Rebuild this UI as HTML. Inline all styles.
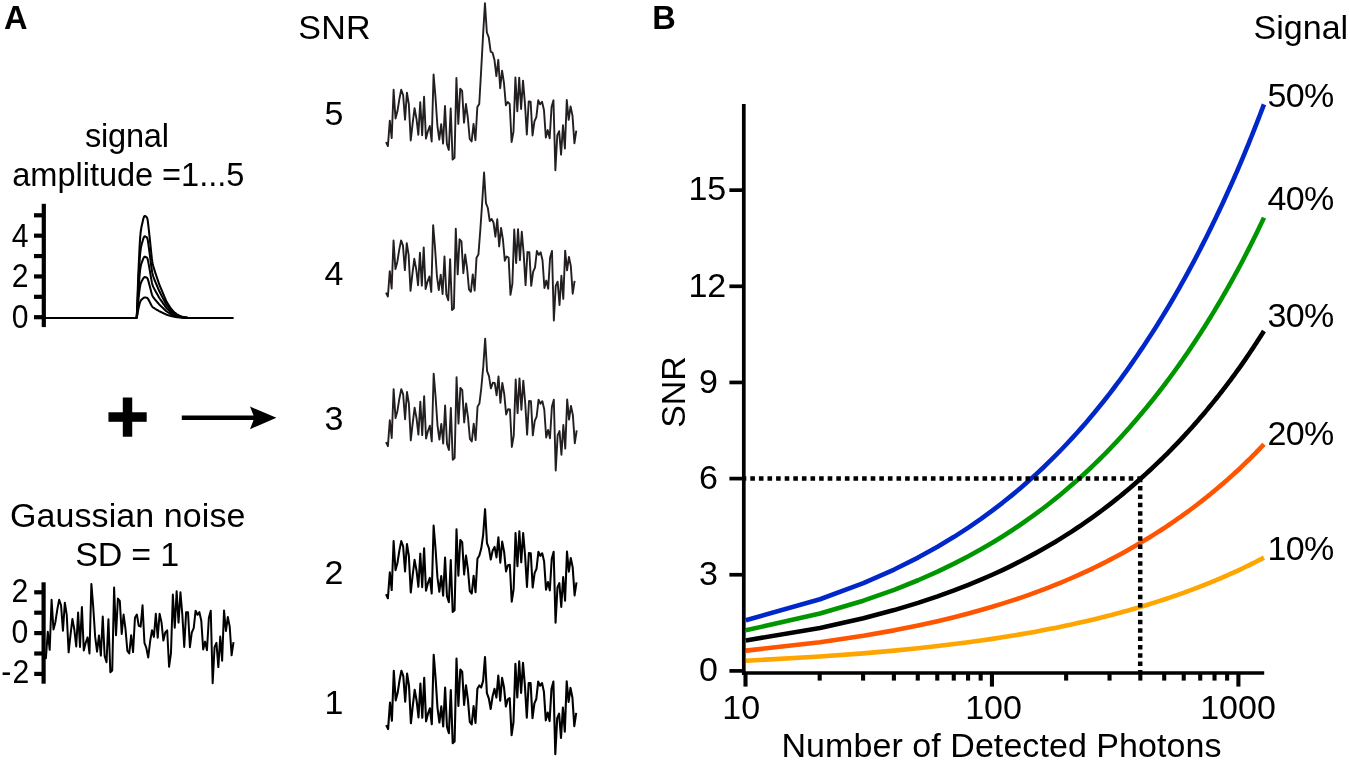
<!DOCTYPE html>
<html><head><meta charset="utf-8"><title>Figure</title>
<style>html,body{margin:0;padding:0;background:#fff}svg{display:block;will-change:transform}</style></head>
<body>
<svg width="1350" height="761" viewBox="0 0 1350 761" font-family="'Liberation Sans', Arial, Helvetica, sans-serif" font-size="34" fill="#000">
<rect width="1350" height="761" fill="#fff"/>
<text x="3.9" y="29" font-weight="bold" font-size="32.6">A</text>
<text x="298.2" y="38.6" textLength="72.4" lengthAdjust="spacing">SNR</text>
<text x="324.6" y="125">5</text>
<text x="324.6" y="284.5">4</text>
<text x="324.6" y="430.2">3</text>
<text x="324.6" y="584.25">2</text>
<text x="324.6" y="713.75">1</text>
<text x="85" y="147.3" font-size="32.6" textLength="84" lengthAdjust="spacing">signal</text>
<text x="12.3" y="185.8" font-size="32.6" textLength="232" lengthAdjust="spacing">amplitude =1...5</text>
<text x="10" y="527" textLength="235.5" lengthAdjust="spacing">Gaussian noise</text>
<text x="75.2" y="565.7" textLength="104" lengthAdjust="spacing">SD = 1</text>
<g stroke="#000" stroke-width="4.2" fill="none">
<path d="M43.8 203.8V327.1"/>
<path d="M34 317.2H43.8"/>
<path d="M34 296.82H43.8"/>
<path d="M34 276.44H43.8"/>
<path d="M34 256.06H43.8"/>
<path d="M34 235.68H43.8"/>
<path d="M34 215.3H43.8"/>
</g>
<text transform="translate(28.4 247.3) scale(0.9 1)" text-anchor="end" font-size="33.5">4</text>
<text transform="translate(28.4 286.6) scale(0.9 1)" text-anchor="end" font-size="33.5">2</text>
<text transform="translate(28.4 327.6) scale(0.9 1)" text-anchor="end" font-size="33.5">0</text>
<g stroke="#000" stroke-width="2.05" fill="none" stroke-linejoin="round">
<polyline points="135.55,317.9 135.93,317.9 136.31,317.9 136.69,317.72 137.07,316.43 137.45,314.33 137.83,311.92 138.21,309.68 138.59,307.98 138.97,306.31 139.35,304.67 139.73,303.19 140.11,301.97 140.49,301.11 140.87,300.46 141.25,299.97 141.63,299.57 142.01,299.23 142.39,298.9 142.77,298.56 143.15,298.24 143.53,297.96 143.91,297.73 144.29,297.59 144.67,297.52 145.05,297.51 145.43,297.55 145.81,297.61 146.19,297.68 146.57,297.73 146.95,297.82 147.33,298.02 147.71,298.39 148.09,298.97 148.47,299.63 148.85,300.32 149.23,301.03 149.61,301.75 149.99,302.47 150.37,303.21 150.75,303.96 151.13,304.7 151.51,305.41 151.89,306.06 152.27,306.6 152.65,307.02 153.03,307.36 153.41,307.65 153.79,307.9 154.17,308.15 154.55,308.4 154.93,308.64 155.31,308.88 155.69,309.1 156.07,309.32 156.45,309.55 156.83,309.77 157.21,309.99 157.59,310.22 157.97,310.44 158.35,310.67 158.73,310.9 159.11,311.11 159.49,311.32 159.87,311.51 160.25,311.69 160.63,311.86 161.01,312.04 161.39,312.22 161.77,312.4 162.15,312.58 162.53,312.77 162.91,312.95 163.29,313.13 163.67,313.31 164.05,313.5 164.43,313.68 164.81,313.86 165.19,314.04 165.57,314.22 165.95,314.39 166.33,314.55 166.71,314.69 167.09,314.83 167.47,314.95 167.85,315.08 168.23,315.19 168.61,315.31 168.99,315.43 169.37,315.54 169.75,315.66 170.13,315.77 170.51,315.88 170.89,315.99 171.27,316.09 171.65,316.18 172.03,316.27 172.41,316.36 172.79,316.44 173.17,316.53 173.55,316.6 173.93,316.68 174.31,316.75 174.69,316.82 175.07,316.88 175.45,316.95 175.83,317.01 176.21,317.06 176.59,317.12 176.97,317.17 177.35,317.22 177.73,317.27 178.11,317.31 178.49,317.35 178.87,317.39 179.25,317.43 179.63,317.47 180.01,317.5 180.39,317.53 180.77,317.56 181.15,317.59 181.53,317.62 181.91,317.65 182.29,317.67 182.67,317.69 183.05,317.71 183.43,317.73 183.81,317.75 184.19,317.77 184.57,317.78 184.95,317.8 185.33,317.82 185.71,317.83 186.09,317.85 186.47,317.86 186.85,317.88 187.23,317.89 187.61,317.9 187.99,317.9 188.37,317.9 188.75,317.9 189.13,317.9 189.51,317.9"/>
<polyline points="135.55,317.9 135.93,317.9 136.31,317.9 136.69,317.53 137.07,314.96 137.45,310.77 137.83,305.94 138.21,301.47 138.59,298.06 138.97,294.72 139.35,291.45 139.73,288.47 140.11,286.04 140.49,284.31 140.87,283.03 141.25,282.04 141.63,281.24 142.01,280.56 142.39,279.9 142.77,279.23 143.15,278.58 143.53,278.01 143.91,277.56 144.29,277.28 144.67,277.14 145.05,277.13 145.43,277.2 145.81,277.33 146.19,277.46 146.57,277.56 146.95,277.75 147.33,278.14 147.71,278.88 148.09,280.05 148.47,281.36 148.85,282.74 149.23,284.16 149.61,285.59 149.99,287.03 150.37,288.51 150.75,290.02 151.13,291.5 151.51,292.92 151.89,294.23 152.27,295.29 152.65,296.14 153.03,296.82 153.41,297.39 153.79,297.9 154.17,298.41 154.55,298.9 154.93,299.39 155.31,299.85 155.69,300.3 156.07,300.75 156.45,301.19 156.83,301.64 157.21,302.08 157.59,302.53 157.97,302.99 158.35,303.45 158.73,303.9 159.11,304.33 159.49,304.73 159.87,305.11 160.25,305.47 160.63,305.82 161.01,306.18 161.39,306.54 161.77,306.9 162.15,307.27 162.53,307.63 162.91,308 163.29,308.36 163.67,308.73 164.05,309.09 164.43,309.46 164.81,309.82 165.19,310.18 165.57,310.54 165.95,310.87 166.33,311.19 166.71,311.49 167.09,311.75 167.47,312.01 167.85,312.25 168.23,312.49 168.61,312.72 168.99,312.95 169.37,313.19 169.75,313.42 170.13,313.64 170.51,313.86 170.89,314.08 171.27,314.28 171.65,314.47 172.03,314.65 172.41,314.82 172.79,314.99 173.17,315.15 173.55,315.31 173.93,315.46 174.31,315.6 174.69,315.74 175.07,315.87 175.45,315.99 175.83,316.11 176.21,316.23 176.59,316.33 176.97,316.44 177.35,316.54 177.73,316.63 178.11,316.72 178.49,316.81 178.87,316.89 179.25,316.96 179.63,317.03 180.01,317.1 180.39,317.16 180.77,317.22 181.15,317.28 181.53,317.34 181.91,317.39 182.29,317.44 182.67,317.48 183.05,317.52 183.43,317.56 183.81,317.6 184.19,317.63 184.57,317.67 184.95,317.7 185.33,317.73 185.71,317.76 186.09,317.79 186.47,317.83 186.85,317.86 187.23,317.88 187.61,317.9 187.99,317.9 188.37,317.9 188.75,317.9 189.13,317.9 189.51,317.9"/>
<polyline points="135.55,317.9 135.93,317.9 136.31,317.9 136.69,317.35 137.07,313.49 137.45,307.2 137.83,299.96 138.21,293.25 138.59,288.14 138.97,283.13 139.35,278.22 139.73,273.76 140.11,270.1 140.49,267.52 140.87,265.59 141.25,264.1 141.63,262.92 142.01,261.89 142.39,260.9 142.77,259.89 143.15,258.92 143.53,258.07 143.91,257.4 144.29,256.97 144.67,256.77 145.05,256.74 145.43,256.85 145.81,257.04 146.19,257.24 146.57,257.4 146.95,257.67 147.33,258.26 147.71,259.37 148.09,261.12 148.47,263.08 148.85,265.15 149.23,267.29 149.61,269.44 149.99,271.6 150.37,273.82 150.75,276.07 151.13,278.3 151.51,280.43 151.89,282.39 152.27,283.99 152.65,285.26 153.03,286.28 153.41,287.14 153.79,287.9 154.17,288.66 154.55,289.4 154.93,290.13 155.31,290.83 155.69,291.5 156.07,292.17 156.45,292.84 156.83,293.51 157.21,294.18 157.59,294.85 157.97,295.53 158.35,296.22 158.73,296.89 159.11,297.54 159.49,298.15 159.87,298.72 160.25,299.26 160.63,299.79 161.01,300.32 161.39,300.86 161.77,301.41 162.15,301.95 162.53,302.5 162.91,303.05 163.29,303.59 163.67,304.14 164.05,304.69 164.43,305.23 164.81,305.78 165.19,306.33 165.57,306.85 165.95,307.36 166.33,307.84 166.71,308.28 167.09,308.68 167.47,309.06 167.85,309.43 168.23,309.78 168.61,310.13 168.99,310.48 169.37,310.83 169.75,311.17 170.13,311.51 170.51,311.85 170.89,312.16 171.27,312.46 171.65,312.75 172.03,313.02 172.41,313.28 172.79,313.53 173.17,313.78 173.55,314.01 173.93,314.24 174.31,314.46 174.69,314.66 175.07,314.85 175.45,315.04 175.83,315.22 176.21,315.39 176.59,315.55 176.97,315.71 177.35,315.86 177.73,316 178.11,316.14 178.49,316.26 178.87,316.38 179.25,316.49 179.63,316.6 180.01,316.7 180.39,316.79 180.77,316.89 181.15,316.97 181.53,317.06 181.91,317.14 182.29,317.21 182.67,317.27 183.05,317.33 183.43,317.39 183.81,317.45 184.19,317.5 184.57,317.55 184.95,317.6 185.33,317.65 185.71,317.69 186.09,317.74 186.47,317.79 186.85,317.84 187.23,317.87 187.61,317.9 187.99,317.9 188.37,317.9 188.75,317.9 189.13,317.9 189.51,317.9"/>
<polyline points="135.55,317.9 135.93,317.9 136.31,317.9 136.69,317.16 137.07,312.02 137.45,303.64 137.83,293.98 138.21,285.04 138.59,278.22 138.97,271.54 139.35,264.99 139.73,259.04 140.11,254.17 140.49,250.73 140.87,248.16 141.25,246.17 141.63,244.59 142.01,243.23 142.39,241.9 142.77,240.56 143.15,239.27 143.53,238.13 143.91,237.23 144.29,236.66 144.67,236.39 145.05,236.36 145.43,236.5 145.81,236.75 146.19,237.02 146.57,237.23 146.95,237.59 147.33,238.38 147.71,239.87 148.09,242.19 148.47,244.81 148.85,247.57 149.23,250.42 149.61,253.29 149.99,256.16 150.37,259.13 150.75,262.13 151.13,265.1 151.51,267.94 151.89,270.56 152.27,272.68 152.65,274.38 153.03,275.74 153.41,276.88 153.79,277.91 154.17,278.91 154.55,279.9 154.93,280.87 155.31,281.81 155.69,282.71 156.07,283.6 156.45,284.49 156.83,285.38 157.21,286.27 157.59,287.16 157.97,288.08 158.35,288.99 158.73,289.89 159.11,290.76 159.49,291.57 159.87,292.32 160.25,293.04 160.63,293.75 161.01,294.45 161.39,295.18 161.77,295.91 162.15,296.64 162.53,297.37 162.91,298.1 163.29,298.82 163.67,299.55 164.05,300.28 164.43,301.01 164.81,301.74 165.19,302.47 165.57,303.17 165.95,303.85 166.33,304.48 166.71,305.07 167.09,305.61 167.47,306.11 167.85,306.6 168.23,307.08 168.61,307.54 168.99,308.01 169.37,308.47 169.75,308.93 170.13,309.39 170.51,309.83 170.89,310.25 171.27,310.65 171.65,311.03 172.03,311.39 172.41,311.74 172.79,312.07 173.17,312.4 173.55,312.72 173.93,313.02 174.31,313.31 174.69,313.58 175.07,313.84 175.45,314.09 175.83,314.32 176.21,314.55 176.59,314.77 176.97,314.98 177.35,315.18 177.73,315.37 178.11,315.55 178.49,315.71 178.87,315.87 179.25,316.02 179.63,316.16 180.01,316.3 180.39,316.42 180.77,316.55 181.15,316.67 181.53,316.78 181.91,316.88 182.29,316.97 182.67,317.06 183.05,317.14 183.43,317.22 183.81,317.3 184.19,317.37 184.57,317.44 184.95,317.5 185.33,317.56 185.71,317.63 186.09,317.69 186.47,317.75 186.85,317.82 187.23,317.87 187.61,317.9 187.99,317.9 188.37,317.9 188.75,317.9 189.13,317.9 189.51,317.9"/>
<polyline points="43.8,317.9 135.55,317.9 135.93,317.9 136.31,317.9 136.69,316.98 137.07,310.55 137.45,300.07 137.83,288 138.21,276.82 138.59,268.3 138.97,259.95 139.35,251.76 139.73,244.33 140.11,238.24 140.49,233.93 140.87,230.72 141.25,228.24 141.63,226.26 142.01,224.56 142.39,222.9 142.77,221.22 143.15,219.61 143.53,218.18 143.91,217.06 144.29,216.35 144.67,216.01 145.05,215.97 145.43,216.15 145.81,216.47 146.19,216.81 146.57,217.06 146.95,217.52 147.33,218.5 147.71,220.36 148.09,223.26 148.47,226.54 148.85,229.99 149.23,233.54 149.61,237.14 149.99,240.73 150.37,244.44 150.75,248.19 151.13,251.9 151.51,255.46 151.89,258.72 152.27,261.38 152.65,263.5 153.03,265.21 153.41,266.63 153.79,267.91 154.17,269.16 154.55,270.41 154.93,271.62 155.31,272.79 155.69,273.91 156.07,275.02 156.45,276.13 156.83,277.25 157.21,278.36 157.59,279.48 157.97,280.62 158.35,281.77 158.73,282.89 159.11,283.97 159.49,284.98 159.87,285.93 160.25,286.83 160.63,287.71 161.01,288.59 161.39,289.5 161.77,290.41 162.15,291.32 162.53,292.23 162.91,293.14 163.29,294.06 163.67,294.97 164.05,295.88 164.43,296.79 164.81,297.7 165.19,298.61 165.57,299.49 165.95,300.33 166.33,301.13 166.71,301.86 167.09,302.53 167.47,303.17 167.85,303.78 168.23,304.37 168.61,304.95 168.99,305.53 169.37,306.11 169.75,306.69 170.13,307.26 170.51,307.81 170.89,308.34 171.27,308.84 171.65,309.31 172.03,309.76 172.41,310.2 172.79,310.62 173.17,311.03 173.55,311.42 173.93,311.8 174.31,312.16 174.69,312.5 175.07,312.82 175.45,313.13 175.83,313.43 176.21,313.71 176.59,313.98 176.97,314.25 177.35,314.5 177.73,314.74 178.11,314.96 178.49,315.17 178.87,315.36 179.25,315.55 179.63,315.73 180.01,315.9 180.39,316.05 180.77,316.21 181.15,316.36 181.53,316.5 181.91,316.63 182.29,316.74 182.67,316.85 183.05,316.96 183.43,317.05 183.81,317.15 184.19,317.23 184.57,317.32 184.95,317.4 185.33,317.48 185.71,317.56 186.09,317.64 186.47,317.72 186.85,317.8 187.23,317.86 187.61,317.89 187.99,317.9 188.37,317.9 188.75,317.9 189.13,317.9 189.51,317.9 233.6,317.9"/>
</g>
<text x="127.5" y="442" text-anchor="middle" font-weight="bold" font-size="73.7" stroke="#000" stroke-width="1.3" stroke-linejoin="miter">+</text>
<path d="M181.8 417.8H255" stroke="#000" stroke-width="4.6" fill="none"/>
<path d="M276.4 417.8L250 406.6L254.4 417.8L250 429.2Z" fill="#000"/>
<g stroke="#000" stroke-width="4.2" fill="none">
<path d="M43.6 582.3V683.7"/>
<path d="M34.2 673.9H43.6"/>
<path d="M34.2 653.5H43.6"/>
<path d="M34.2 633.1H43.6"/>
<path d="M34.2 612.7H43.6"/>
<path d="M34.2 592.3H43.6"/>
</g>
<text transform="translate(28.3 602.1) scale(0.9 1)" text-anchor="end" font-size="33.5">2</text>
<text transform="translate(28.3 643.3) scale(0.9 1)" text-anchor="end" font-size="33.5">0</text>
<text transform="translate(29.2 682.8) scale(0.9 1)" text-anchor="end" font-size="33.5">-<tspan dx="1.4">2</tspan></text>
<polyline points="44,654.17 45.9,658.27 47.79,631.76 49.69,649.87 51.58,599.8 53.48,629.55 55.37,622.18 57.27,609.66 59.16,599.8 61.05,605.25 62.95,630.72 64.84,602.74 66.74,614.82 68.64,652.37 70.53,634.7 72.42,618.94 74.32,629.55 76.22,646.48 78.11,612.61 80,646.92 81.9,607.01 83.8,650.46 85.69,642.8 87.59,637.35 89.48,653.41 91.38,583.89 93.27,607.46 95.16,636.91 97.06,651.64 98.95,635.44 100.85,655.61 102.75,616.59 104.64,656.06 106.53,662.24 108.43,619.24 110.33,672.26 112.22,670.49 114.11,587.57 116.01,635.14 117.91,598.62 119.8,600.83 121.7,633.96 123.59,614.52 125.48,628.81 127.38,650.9 129.28,653.41 131.17,635.14 133.06,652.08 134.96,617.76 136.86,614.52 138.75,625.86 140.64,626.6 142.54,605.25 144.44,642.8 146.33,647.96 148.22,657.53 150.12,641.33 152.01,630.28 153.91,636.91 155.81,613.79 157.7,637.65 159.59,613.79 161.49,622.18 163.38,640.59 165.28,632.49 167.18,630.28 169.07,666.81 170.97,653.11 172.86,594.49 174.75,627.78 176.65,591.25 178.54,622.62 180.44,592.29 182.34,614.82 184.23,646.92 186.12,612.17 188.02,612.17 189.91,647.22 191.81,632.49 193.71,628.07 195.6,610.7 197.5,614.82 199.39,612.17 201.28,620.71 203.18,649.43 205.07,641.62 206.97,650.16 208.87,617.76 210.76,610.7 212.66,683.3 214.55,647.22 216.44,642.8 218.34,667.1 220.24,636.62 222.13,660.77 224.03,610.4 225.92,631.02 227.81,617.03 229.71,626.6 231.6,655.32 233.5,642.06" stroke="#000" stroke-width="2.0" fill="none" stroke-linejoin="round"/>
<polyline points="386,142.18 387.9,146.13 389.81,120.59 391.71,138.04 393.61,89.8 395.51,118.46 397.42,111.36 399.32,99.3 401.22,89.8 403.13,95.05 405.03,119.59 406.93,92.63 408.84,104.27 410.74,140.45 412.64,123.42 414.55,108.24 416.45,118.46 418.35,134.78 420.25,102.14 422.16,135.2 424.06,96.75 425.96,138.61 427.87,131.23 429.77,125.98 431.67,141.44 433.57,74.47 435.48,97.18 437.38,125.55 439.28,139.74 441.19,124.13 443.09,143.57 444.99,105.97 446.9,144 448.8,149.96 450.7,108.53 452.61,159.61 454.51,157.9 456.41,78.02 458.31,123.85 460.22,88.66 462.12,90.79 464.02,122.71 465.93,103.99 467.83,117.75 469.73,139.03 471.63,141.44 473.54,123.85 475.44,140.17 477.34,107.11 479.25,103.99 481.15,70.47 483.05,35.63 484.96,3.21 486.86,32.48 488.76,37.44 490.67,51.6 492.57,52.78 494.47,59.92 496.37,76.18 498.28,59.83 500.18,88.24 502.08,70.69 503.99,83.22 505.89,105.4 507.79,102.04 509.69,103.86 511.6,142.01 513.5,131.58 515.4,77.38 517.31,111.32 519.21,77.62 521.11,109.02 523.02,80.68 524.92,103.08 526.82,134.51 528.73,101.42 530.63,101.72 532.53,135.48 534.43,121.3 536.34,117.04 538.24,100.3 540.14,104.27 542.05,101.72 543.95,109.94 545.85,137.61 547.75,130.09 549.66,138.32 551.56,107.11 553.46,100.3 555.37,170.25 557.27,135.48 559.17,131.23 561.08,154.64 562.98,125.27 564.88,148.54 566.78,100.01 568.69,119.88 570.59,106.4 572.49,115.62 574.4,143.29 576.3,130.52" stroke="#231f20" stroke-width="1.9" fill="none" stroke-linejoin="round"/>
<polyline points="386,292.58 387.89,296.51 389.77,271.09 391.66,288.46 393.54,240.44 395.43,268.97 397.32,261.91 399.2,249.9 401.09,240.44 402.97,245.67 404.86,270.1 406.75,243.27 408.63,254.85 410.52,290.86 412.4,273.91 414.29,258.8 416.18,268.97 418.06,285.21 419.95,252.73 421.83,285.64 423.72,247.36 425.61,289.03 427.49,281.68 429.38,276.46 431.26,291.85 433.15,225.19 435.04,247.79 436.92,276.03 438.81,290.16 440.69,274.62 442.58,293.97 444.47,256.54 446.35,294.39 448.24,300.33 450.12,259.08 452.01,309.93 453.9,308.24 455.78,228.72 457.67,274.34 459.55,239.31 461.44,241.43 463.33,273.21 465.21,254.56 467.1,268.27 468.98,289.45 470.87,291.85 472.76,274.34 474.64,290.58 476.53,257.67 478.41,254.56 480.3,230.05 482.19,202.45 484.07,172.53 485.96,203.04 487.84,207.99 489.73,221.1 491.62,218.93 493.5,222.49 495.39,236.71 497.27,219.26 499.16,246.46 501.05,227.91 502.93,239.5 504.82,260.69 506.7,256.46 508.59,257.49 510.48,294.88 512.36,283.94 514.25,229.54 516.13,262.95 518.02,229.1 519.91,260.13 521.79,231.74 523.68,253.9 525.56,285.09 527.45,252.07 529.34,252.31 531.22,285.92 533.11,271.8 534.99,267.56 536.88,250.89 538.77,254.85 540.65,252.31 542.54,260.5 544.42,288.04 546.31,280.55 548.2,288.75 550.08,257.67 551.97,250.89 553.85,320.52 555.74,285.92 557.63,281.68 559.51,304.99 561.4,275.75 563.28,298.91 565.17,250.61 567.06,270.38 568.94,256.97 570.83,266.15 572.71,293.69 574.6,280.98" stroke="#231f20" stroke-width="1.9" fill="none" stroke-linejoin="round"/>
<polyline points="386,442.14 387.91,446.14 389.81,420.28 391.72,437.95 393.63,389.1 395.54,418.12 397.44,410.94 399.35,398.72 401.26,389.1 403.16,394.41 405.07,419.27 406.98,391.97 408.88,403.75 410.79,440.39 412.7,423.15 414.61,407.78 416.51,418.12 418.42,434.64 420.33,401.6 422.23,435.08 424.14,396.14 426.05,438.52 427.95,431.05 429.86,425.74 431.77,441.4 433.68,373.58 435.58,396.57 437.49,425.31 439.4,439.67 441.3,423.87 443.21,443.55 445.12,405.48 447.02,443.98 448.93,450.02 450.84,408.06 452.75,459.79 454.65,458.06 456.56,377.17 458.47,423.58 460.37,387.95 462.28,390.1 464.19,422.43 466.09,403.47 468,417.4 469.91,438.95 471.81,441.4 473.72,423.58 475.63,440.1 477.54,406.63 479.44,403.47 481.35,387.53 483.26,366.65 485.16,338.61 487.07,371.05 488.98,376.08 490.88,388.42 492.79,382.82 494.7,382.84 496.61,395.31 498.51,376.35 500.42,402.92 502.33,382.95 504.23,393.84 506.14,414.5 508.05,409.29 509.95,409.54 511.86,446.97 513.77,435.29 515.68,379.48 517.58,413.1 519.49,378.36 521.4,409.69 523.3,380.63 525.21,403.03 527.12,434.66 529.02,400.99 530.93,401.17 532.84,435.36 534.75,420.99 536.65,416.68 538.56,399.73 540.47,403.75 542.37,401.17 544.28,409.5 546.19,437.52 548.1,429.9 550,438.24 551.91,406.63 553.82,399.73 555.72,470.57 557.63,435.36 559.54,431.05 561.44,454.76 563.35,425.02 565.26,448.58 567.16,399.44 569.07,419.56 570.98,405.91 572.89,415.25 574.79,443.27 576.7,430.33" stroke="#231f20" stroke-width="1.9" fill="none" stroke-linejoin="round"/>
<polyline points="386,594.29 387.9,598.3 389.81,572.37 391.71,590.09 393.62,541.12 395.52,570.21 397.43,563.01 399.33,550.77 401.24,541.12 403.14,546.45 405.05,571.37 406.95,544 408.86,555.81 410.76,592.54 412.67,575.25 414.57,559.84 416.48,570.21 418.38,586.78 420.29,553.65 422.19,587.21 424.1,548.17 426,590.67 427.91,583.18 429.81,577.85 431.72,593.55 433.62,525.56 435.53,548.61 437.44,577.42 439.34,591.82 441.25,575.98 443.15,595.71 445.06,557.54 446.96,596.14 448.87,602.19 450.77,560.13 452.68,611.99 454.58,610.26 456.49,529.16 458.39,575.69 460.3,539.96 462.2,542.13 464.11,574.53 466.01,555.52 467.92,569.49 469.82,591.1 471.73,593.55 473.63,575.69 475.53,592.25 477.44,558.69 479.35,555.52 481.25,548.57 483.15,534.85 485.06,509.15 486.97,543.08 488.87,548.12 490.77,559.49 492.68,550.46 494.59,546.87 496.49,557.37 498.39,537.16 500.3,562.7 502.2,541.57 504.11,551.58 506.01,571.39 507.92,565.27 509.82,564.72 511.73,601.64 513.63,589.37 515.54,532.96 517.44,566.28 519.35,531.16 521.25,562.32 523.16,533.01 525.07,555.33 526.97,586.93 528.88,553.1 530.78,553.22 532.68,587.5 534.59,573.09 536.5,568.77 538.4,551.78 540.31,555.81 542.21,553.22 544.12,561.57 546.02,589.66 547.92,582.02 549.83,590.38 551.74,558.69 553.64,551.78 555.55,622.79 557.45,587.5 559.36,583.18 561.26,606.94 563.16,577.13 565.07,600.75 566.98,551.49 568.88,571.65 570.78,557.97 572.69,567.33 574.6,595.42 576.5,582.46" stroke="#000" stroke-width="2.05" fill="none" stroke-linejoin="round"/>
<polyline points="386.2,725.07 388.1,729.17 390,702.66 391.9,720.77 393.8,670.7 395.7,700.45 397.6,693.08 399.5,680.56 401.4,670.7 403.3,676.15 405.2,701.62 407.1,673.64 409,685.72 410.9,723.27 412.8,705.6 414.7,689.84 416.6,700.45 418.5,717.38 420.4,683.51 422.3,717.82 424.2,677.91 426.1,721.36 428,713.7 429.9,708.25 431.8,724.31 433.7,654.79 435.6,678.36 437.5,707.81 439.4,722.54 441.3,706.34 443.2,726.51 445.1,687.49 447,726.96 448.9,733.14 450.8,690.14 452.7,743.16 454.6,741.39 456.5,658.47 458.4,706.04 460.3,669.52 462.2,671.73 464.1,704.86 466,685.42 467.9,699.71 469.8,721.8 471.7,724.31 473.6,706.04 475.5,722.98 477.4,688.66 479.3,685.42 481.2,687.54 483.1,680.9 485,657.08 486.9,693.2 488.8,698.36 490.7,708.95 492.6,696.24 494.5,688.88 496.4,697.56 498.3,675.67 500.2,700.65 502.1,677.92 504,687.24 505.9,706.57 507.8,699.39 509.7,698.01 511.6,735.14 513.5,722.02 515.4,663.88 517.3,697.55 519.2,661.33 521.1,692.95 523,662.8 524.9,685.47 526.8,717.68 528.7,683.01 530.6,683.07 532.5,718.12 534.4,703.39 536.3,698.97 538.2,681.6 540.1,685.72 542,683.07 543.9,691.61 545.8,720.33 547.7,712.52 549.6,721.06 551.5,688.66 553.4,681.6 555.3,754.2 557.2,718.12 559.1,713.7 561,738 562.9,707.52 564.8,731.67 566.7,681.3 568.6,701.92 570.5,687.93 572.4,697.5 574.3,726.22 576.2,712.96" stroke="#000" stroke-width="2.1" fill="none" stroke-linejoin="round"/>
<text x="652.3" y="29" font-weight="bold" font-size="32.6">B</text>
<text x="1253.6" y="38.7" textLength="94.5" lengthAdjust="spacing">Signal</text>
<g fill="none" stroke-width="4.6" stroke-linejoin="round">
<polyline stroke="#ffa500" points="745.8,660.76 819.99,656.57 863.39,653.35 894.18,650.63 918.06,648.24 937.58,646.07 954.07,644.09 968.37,642.23 980.97,640.49 992.25,638.85 1002.45,637.29 1011.76,635.79 1020.33,634.36 1028.26,632.98 1035.65,631.65 1042.56,630.36 1049.04,629.11 1055.16,627.9 1060.95,626.72 1066.44,625.57 1071.66,624.46 1076.64,623.36 1081.4,622.29 1085.95,621.25 1090.32,620.22 1094.52,619.22 1098.56,618.24 1102.45,617.27 1106.21,616.32 1109.84,615.39 1113.35,614.47 1116.74,613.57 1120.04,612.68 1123.23,611.8 1126.34,610.94 1129.35,610.09 1132.28,609.25 1135.14,608.42 1137.92,607.61 1140.63,606.8 1143.32,606 1145.93,605.22 1148.49,604.44 1150.98,603.67 1153.42,602.91 1155.81,602.16 1158.14,601.42 1160.43,600.68 1162.66,599.95 1164.86,599.23 1167.01,598.52 1169.12,597.81 1171.18,597.12 1173.21,596.42 1175.2,595.74 1177.16,595.06 1179.08,594.38 1180.97,593.71 1182.82,593.05 1184.65,592.39 1186.44,591.74 1188.21,591.1 1189.95,590.46 1191.65,589.82 1193.34,589.19 1195,588.56 1196.63,587.94 1198.24,587.32 1199.82,586.71 1201.38,586.1 1202.92,585.5 1204.44,584.9 1205.94,584.31 1207.41,583.71 1208.87,583.13 1210.31,582.54 1211.73,581.96 1213.13,581.39 1214.51,580.82 1215.88,580.25 1217.23,579.68 1218.56,579.12 1219.87,578.56 1221.17,578.01 1222.46,577.46 1223.73,576.91 1224.98,576.37 1226.22,575.82 1227.45,575.29 1228.66,574.75 1229.86,574.22 1231.05,573.69 1232.22,573.16 1233.38,572.64 1234.53,572.12 1235.67,571.6 1236.79,571.08 1237.91,570.57 1239.01,570.06 1240.1,569.55 1241.17,569.04 1242.22,568.54 1243.26,568.04 1244.3,567.54 1245.32,567.05 1246.34,566.55 1247.34,566.06 1248.34,565.57 1249.32,565.09 1250.3,564.6 1251.27,564.12 1252.23,563.64 1253.18,563.16 1254.12,562.69 1255.06,562.21 1255.99,561.74 1256.9,561.27 1257.82,560.8 1258.72,560.34 1259.61,559.88 1260.5,559.41 1261.38,558.95 1262.26,558.5 1263.12,558.04 1263.98,557.59"/>
<polyline stroke="#ff5500" points="745.8,650.63 819.99,642.23 863.39,635.79 894.18,630.36 918.06,625.57 937.58,621.25 954.07,617.27 968.37,613.57 980.97,610.09 992.25,606.8 1002.45,603.67 1011.76,600.68 1020.33,597.81 1028.26,595.06 1035.65,592.39 1042.56,589.82 1049.04,587.32 1055.16,584.9 1060.95,582.54 1066.44,580.25 1071.66,578.01 1076.64,575.82 1081.4,573.69 1085.95,571.6 1090.32,569.55 1094.52,567.54 1098.56,565.57 1102.45,563.64 1106.21,561.74 1109.84,559.88 1113.35,558.04 1116.74,556.23 1120.04,554.46 1123.23,552.71 1126.34,550.98 1129.35,549.28 1132.28,547.6 1135.14,545.95 1137.92,544.31 1140.63,542.7 1143.32,541.11 1145.93,539.53 1148.49,537.98 1150.98,536.44 1153.42,534.92 1155.81,533.42 1158.14,531.93 1160.43,530.46 1162.66,529.01 1164.86,527.57 1167.01,526.14 1169.12,524.73 1171.18,523.33 1173.21,521.95 1175.2,520.57 1177.16,519.21 1179.08,517.86 1180.97,516.53 1182.82,515.2 1184.65,513.89 1186.44,512.58 1188.21,511.29 1189.95,510.01 1191.65,508.74 1193.34,507.48 1195,506.22 1196.63,504.98 1198.24,503.75 1199.82,502.52 1201.38,501.31 1202.92,500.1 1204.44,498.9 1205.94,497.71 1207.41,496.53 1208.87,495.35 1210.31,494.19 1211.73,493.03 1213.13,491.88 1214.51,490.73 1215.88,489.6 1217.23,488.47 1218.56,487.35 1219.87,486.23 1221.17,485.12 1222.46,484.02 1223.73,482.92 1224.98,481.83 1226.22,480.75 1227.45,479.67 1228.66,478.6 1229.86,477.53 1231.05,476.48 1232.22,475.42 1233.38,474.37 1234.53,473.33 1235.67,472.29 1236.79,471.26 1237.91,470.24 1239.01,469.21 1240.1,468.2 1241.17,467.19 1242.22,466.18 1243.26,465.18 1244.3,464.18 1245.32,463.19 1246.34,462.21 1247.34,461.22 1248.34,460.25 1249.32,459.27 1250.3,458.3 1251.27,457.34 1252.23,456.38 1253.18,455.42 1254.12,454.47 1255.06,453.53 1255.99,452.58 1256.9,451.64 1257.82,450.71 1258.72,449.78 1259.61,448.85 1260.5,447.93 1261.38,447.01 1262.26,446.09 1263.12,445.18 1263.98,444.27"/>
<polyline stroke="#000" points="745.8,640.49 819.99,627.9 863.39,618.24 894.18,610.09 918.06,602.91 937.58,596.42 954.07,590.46 968.37,584.9 980.97,579.68 992.25,574.75 1002.45,570.06 1011.76,565.57 1020.33,561.27 1028.26,557.13 1035.65,553.14 1042.56,549.28 1049.04,545.54 1055.16,541.9 1060.95,538.37 1066.44,534.92 1071.66,531.57 1076.64,528.29 1081.4,525.08 1085.95,521.95 1090.32,518.87 1094.52,515.86 1098.56,512.91 1102.45,510.01 1106.21,507.16 1109.84,504.36 1113.35,501.61 1116.74,498.9 1120.04,496.23 1123.23,493.61 1126.34,491.02 1129.35,488.47 1132.28,485.95 1135.14,483.47 1137.92,481.02 1140.63,478.6 1143.32,476.21 1145.93,473.85 1148.49,471.52 1150.98,469.21 1153.42,466.94 1155.81,464.68 1158.14,462.45 1160.43,460.25 1162.66,458.06 1164.86,455.9 1167.01,453.76 1169.12,451.64 1171.18,449.55 1173.21,447.47 1175.2,445.41 1177.16,443.37 1179.08,441.35 1180.97,439.34 1182.82,437.35 1184.65,435.38 1186.44,433.43 1188.21,431.49 1189.95,429.57 1191.65,427.66 1193.34,425.76 1195,423.89 1196.63,422.02 1198.24,420.17 1199.82,418.33 1201.38,416.51 1202.92,414.7 1204.44,412.9 1205.94,411.12 1207.41,409.34 1208.87,407.58 1210.31,405.83 1211.73,404.09 1213.13,402.37 1214.51,400.65 1215.88,398.95 1217.23,397.25 1218.56,395.57 1219.87,393.89 1221.17,392.23 1222.46,390.58 1223.73,388.93 1224.98,387.3 1226.22,385.67 1227.45,384.06 1228.66,382.45 1229.86,380.85 1231.05,379.26 1232.22,377.68 1233.38,376.11 1234.53,374.55 1235.67,372.99 1236.79,371.44 1237.91,369.9 1239.01,368.37 1240.1,366.85 1241.17,365.33 1242.22,363.82 1243.26,362.32 1244.3,360.83 1245.32,359.34 1246.34,357.86 1247.34,356.39 1248.34,354.92 1249.32,353.46 1250.3,352.01 1251.27,350.56 1252.23,349.12 1253.18,347.69 1254.12,346.26 1255.06,344.84 1255.99,343.42 1256.9,342.02 1257.82,340.61 1258.72,339.22 1259.61,337.83 1260.5,336.44 1261.38,335.06 1262.26,333.69 1263.12,332.32 1263.98,330.96"/>
<polyline stroke="#009600" points="745.8,630.36 819.99,613.57 863.39,600.68 894.18,589.82 918.06,580.25 937.58,571.6 954.07,563.64 968.37,556.23 980.97,549.28 992.25,542.7 1002.45,536.44 1011.76,530.46 1020.33,524.73 1028.26,519.21 1035.65,513.89 1042.56,508.74 1049.04,503.75 1055.16,498.9 1060.95,494.19 1066.44,489.6 1071.66,485.12 1076.64,480.75 1081.4,476.48 1085.95,472.29 1090.32,468.2 1094.52,464.18 1098.56,460.25 1102.45,456.38 1106.21,452.58 1109.84,448.85 1113.35,445.18 1116.74,441.57 1120.04,438.01 1123.23,434.51 1126.34,431.06 1129.35,427.66 1132.28,424.3 1135.14,420.99 1137.92,417.73 1140.63,414.5 1143.32,411.31 1145.93,408.17 1148.49,405.06 1150.98,401.99 1153.42,398.95 1155.81,395.94 1158.14,392.97 1160.43,390.03 1162.66,387.12 1164.86,384.24 1167.01,381.38 1169.12,378.56 1171.18,375.76 1173.21,372.99 1175.2,370.24 1177.16,367.52 1179.08,364.83 1180.97,362.15 1182.82,359.5 1184.65,356.88 1186.44,354.27 1188.21,351.68 1189.95,349.12 1191.65,346.58 1193.34,344.05 1195,341.55 1196.63,339.06 1198.24,336.6 1199.82,334.15 1201.38,331.71 1202.92,329.3 1204.44,326.9 1205.94,324.52 1207.41,322.16 1208.87,319.81 1210.31,317.48 1211.73,315.16 1213.13,312.86 1214.51,310.57 1215.88,308.3 1217.23,306.04 1218.56,303.79 1219.87,301.56 1221.17,299.34 1222.46,297.14 1223.73,294.94 1224.98,292.76 1226.22,290.6 1227.45,288.44 1228.66,286.3 1229.86,284.17 1231.05,282.05 1232.22,279.94 1233.38,277.85 1234.53,275.76 1235.67,273.69 1236.79,271.62 1237.91,269.57 1239.01,267.53 1240.1,265.5 1241.17,263.47 1242.22,261.46 1243.26,259.46 1244.3,257.47 1245.32,255.48 1246.34,253.51 1247.34,251.55 1248.34,249.59 1249.32,247.65 1250.3,245.71 1251.27,243.78 1252.23,241.86 1253.18,239.95 1254.12,238.05 1255.06,236.15 1255.99,234.27 1256.9,232.39 1257.82,230.52 1258.72,228.66 1259.61,226.8 1260.5,224.96 1261.38,223.12 1262.26,221.29 1263.12,219.46 1263.98,217.64"/>
<polyline stroke="#0028c8" points="745.8,620.22 819.99,599.23 863.39,583.13 894.18,569.55 918.06,557.59 937.58,546.77 954.07,536.83 968.37,527.57 980.97,518.87 992.25,510.65 1002.45,502.83 1011.76,495.35 1020.33,488.19 1028.26,481.29 1035.65,474.63 1042.56,468.2 1049.04,461.96 1055.16,455.9 1060.95,450.01 1066.44,444.27 1071.66,438.68 1076.64,433.21 1081.4,427.87 1085.95,422.64 1090.32,417.52 1094.52,412.5 1098.56,407.58 1102.45,402.75 1106.21,398 1109.84,393.34 1113.35,388.75 1116.74,384.24 1120.04,379.79 1123.23,375.41 1126.34,371.1 1129.35,366.85 1132.28,362.65 1135.14,358.52 1137.92,354.43 1140.63,350.4 1143.32,346.42 1145.93,342.49 1148.49,338.6 1150.98,334.76 1153.42,330.96 1155.81,327.2 1158.14,323.49 1160.43,319.81 1162.66,316.17 1164.86,312.57 1167.01,309 1169.12,305.47 1171.18,301.98 1173.21,298.51 1175.2,295.08 1177.16,291.68 1179.08,288.31 1180.97,284.97 1182.82,281.65 1184.65,278.37 1186.44,275.11 1188.21,271.88 1189.95,268.68 1191.65,265.5 1193.34,262.34 1195,259.21 1196.63,256.1 1198.24,253.02 1199.82,249.96 1201.38,246.92 1202.92,243.9 1204.44,240.9 1205.94,237.93 1207.41,234.97 1208.87,232.04 1210.31,229.12 1211.73,226.22 1213.13,223.35 1214.51,220.49 1215.88,217.64 1217.23,214.82 1218.56,212.01 1219.87,209.22 1221.17,206.45 1222.46,203.69 1223.73,200.95 1224.98,198.23 1226.22,195.52 1227.45,192.83 1228.66,190.15 1229.86,187.49 1231.05,184.84 1232.22,182.2 1233.38,179.58 1234.53,176.98 1235.67,174.38 1236.79,171.8 1237.91,169.24 1239.01,166.69 1240.1,164.15 1241.17,161.62 1242.22,159.1 1243.26,156.6 1244.3,154.11 1245.32,151.63 1246.34,149.16 1247.34,146.71 1248.34,144.26 1249.32,141.83 1250.3,139.41 1251.27,137 1252.23,134.6 1253.18,132.21 1254.12,129.83 1255.06,127.47 1255.99,125.11 1256.9,122.76 1257.82,120.42 1258.72,118.1 1259.61,115.78 1260.5,113.47 1261.38,111.17 1262.26,108.88 1263.12,106.6 1263.98,104.33"/>
</g>
<path d="M1141.9 478.5H744" stroke="#000" stroke-width="4.5" stroke-dasharray="4.6 4.0" fill="none"/>
<path d="M1140.2 477.7V672" stroke="#000" stroke-width="4.5" stroke-dasharray="4.5 3.86" fill="none"/>
<g stroke="#000" stroke-width="3.7" fill="none">
<path d="M743.8 104V674.9"/>
<path d="M742 673H1264.2"/>
<path d="M729.4 670.9H743.8"/>
<path d="M729.4 574.75H743.8"/>
<path d="M729.4 478.6H743.8"/>
<path d="M729.4 382.45H743.8"/>
<path d="M729.4 286.3H743.8"/>
<path d="M729.4 190.15H743.8"/>
</g>
<g stroke="#000" stroke-width="4.1" fill="none">
<path d="M745.5 673V686.6"/>
<path d="M991.95 673V686.6"/>
<path d="M1238.4 673V686.6"/>
<path d="M819.69 673V680.6"/>
<path d="M863.09 673V680.6"/>
<path d="M893.88 673V680.6"/>
<path d="M917.76 673V680.6"/>
<path d="M937.28 673V680.6"/>
<path d="M953.77 673V680.6"/>
<path d="M968.07 673V680.6"/>
<path d="M980.67 673V680.6"/>
<path d="M1066.14 673V680.6"/>
<path d="M1109.54 673V680.6"/>
<path d="M1140.33 673V680.6"/>
<path d="M1164.21 673V680.6"/>
<path d="M1183.73 673V680.6"/>
<path d="M1200.22 673V680.6"/>
<path d="M1214.52 673V680.6"/>
<path d="M1227.12 673V680.6"/>
<path d="M1257.71 673V680.6" stroke="none"/>
</g>
<text x="708.4" y="681.1" text-anchor="middle">0</text>
<text x="708.4" y="584.95" text-anchor="middle">3</text>
<text x="708.4" y="488.8" text-anchor="middle">6</text>
<text x="708.4" y="392.65" text-anchor="middle">9</text>
<text x="707.3" y="296.5" text-anchor="middle">12</text>
<text x="707.3" y="200.35" text-anchor="middle">15</text>
<text x="741.2" y="718.8" text-anchor="middle">10</text>
<text x="993.5" y="718.8" text-anchor="middle">100</text>
<text x="1238" y="718.8" text-anchor="middle">1000</text>
<text x="781.5" y="757.4" textLength="440" lengthAdjust="spacing">Number of Detected Photons</text>
<text transform="translate(685.3 392) rotate(-90)" text-anchor="middle" textLength="71.5" lengthAdjust="spacing">SNR</text>
<text x="1267.6" y="106.8" textLength="66.6" lengthAdjust="spacing">50%</text>
<text x="1267.6" y="209.5" textLength="66.6" lengthAdjust="spacing">40%</text>
<text x="1267.6" y="326.7" textLength="66.6" lengthAdjust="spacing">30%</text>
<text x="1267.6" y="444.5" textLength="66.6" lengthAdjust="spacing">20%</text>
<text x="1267.6" y="559.8" textLength="66.6" lengthAdjust="spacing">10%</text>
</svg>
</body></html>
